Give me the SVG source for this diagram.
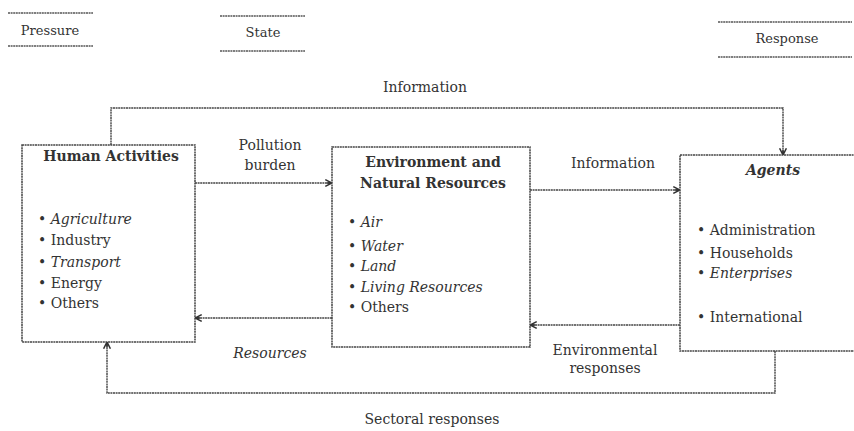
<svg xmlns="http://www.w3.org/2000/svg" width="854" height="431" viewBox="0 0 854 431">
  <defs>
    <style>
      .t { font-family: "DejaVu Serif", "Liberation Serif", serif; font-size: 14px; fill: #333; }
      .h { font-size: 13px; }
      .c { text-anchor: middle; }
      .b { font-weight: bold; }
      .i { font-style: italic; }
      .box { fill: #fff; stroke: #444; stroke-width: 1.5; stroke-dasharray: 2 0.6; }
      .rule { stroke: #555; stroke-width: 1.6; stroke-dasharray: 2 0.6; }
      .wire { fill: none; stroke: #444; stroke-width: 1.4; stroke-dasharray: 2 0.6; }
    </style>
    <marker id="arr" viewBox="0 0 10 10" refX="9" refY="5" markerWidth="6" markerHeight="6" orient="auto-start-reverse">
      <path d="M1,1 L9,5 L1,9 M3,5 L9,5" fill="none" stroke="#333" stroke-width="1.8"/>
    </marker>
  </defs>
  <rect width="854" height="431" fill="#fff"/>

  <!-- column headings -->
  <g id="heading-pressure">
    <line class="rule" x1="8" y1="13" x2="93" y2="13"/>
    <text class="t h c" x="50" y="35">Pressure</text>
    <line class="rule" x1="8" y1="46" x2="93" y2="46"/>
  </g>
  <g id="heading-state">
    <line class="rule" x1="220" y1="16" x2="305" y2="16"/>
    <text class="t h c" x="263" y="37">State</text>
    <line class="rule" x1="220" y1="51" x2="305" y2="51"/>
  </g>
  <g id="heading-response">
    <line class="rule" x1="718" y1="22" x2="852" y2="22"/>
    <text class="t h c" x="787" y="43">Response</text>
    <line class="rule" x1="718" y1="57" x2="852" y2="57"/>
  </g>

  <!-- connectors -->
  <g id="connectors">
    <path class="wire" d="M111,145 V108 H783 V155" marker-end="url(#arr)"/>
    <path class="wire" d="M195,183 H332" marker-end="url(#arr)"/>
    <path class="wire" d="M530,190 H680" marker-end="url(#arr)"/>
    <path class="wire" d="M680,325 H530" marker-end="url(#arr)"/>
    <path class="wire" d="M332,318 H195" marker-end="url(#arr)"/>
    <path class="wire" d="M775,351 V393 H107 V342" marker-end="url(#arr)"/>
    <text class="t c" x="425" y="92">Information</text>
    <text class="t c" x="270" y="150">Pollution</text>
    <text class="t c" x="270" y="170">burden</text>
    <text class="t c" x="613" y="168">Information</text>
    <text class="t c i" x="270" y="358">Resources</text>
    <text class="t c" x="605" y="355">Environmental</text>
    <text class="t c" x="605" y="373">responses</text>
    <text class="t c" x="432" y="424">Sectoral responses</text>
  </g>

  <!-- Human Activities -->
  <g id="human-activities">
    <rect class="box" x="22" y="145" width="173" height="197"/>
    <text class="t c b" x="111" y="161">Human Activities</text>
    <text class="t i" x="38" y="224">• Agriculture</text>
    <text class="t" x="38" y="245">• Industry</text>
    <text class="t i" x="38" y="267">• Transport</text>
    <text class="t" x="38" y="288">• Energy</text>
    <text class="t" x="38" y="308">• Others</text>
  </g>

  <!-- Environment and Natural Resources -->
  <g id="environment">
    <rect class="box" x="332" y="147" width="198" height="200"/>
    <text class="t c b" x="433" y="167">Environment and</text>
    <text class="t c b" x="433" y="188">Natural Resources</text>
    <text class="t i" x="348" y="227">• Air</text>
    <text class="t i" x="348" y="251">• Water</text>
    <text class="t i" x="348" y="271">• Land</text>
    <text class="t i" x="348" y="292">• Living Resources</text>
    <text class="t" x="348" y="312">• Others</text>
  </g>

  <!-- Agents -->
  <g id="agents">
    <rect class="box" x="680" y="155" width="190" height="196"/>
    <text class="t c b i" x="773" y="175">Agents</text>
    <text class="t" x="697" y="235">• Administration</text>
    <text class="t" x="697" y="258">• Households</text>
    <text class="t i" x="697" y="278">• Enterprises</text>
    <text class="t" x="697" y="322">• International</text>
  </g>
</svg>
